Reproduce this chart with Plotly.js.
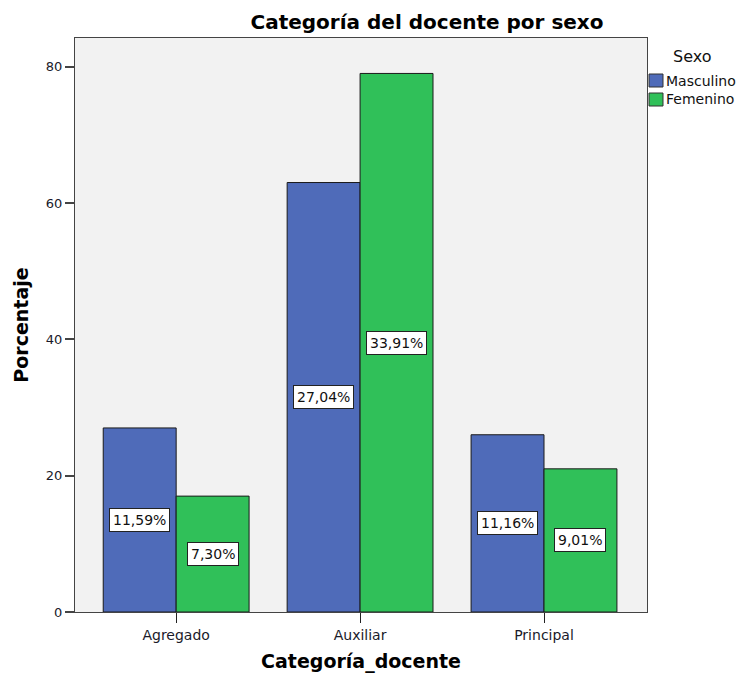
<!DOCTYPE html>
<html>
<head>
<meta charset="utf-8">
<script src="https://cdn.plot.ly/plotly-3.0.1.min.js"></script>
<style>
  html, body { margin: 0; padding: 0; background: #ffffff; }
  #chart { width: 740px; height: 675px; }
</style>
</head>
<body>
<div id="chart"></div>
<script>
// Categorías del docente y número de docentes por sexo
const categorias = ['Agregado', 'Auxiliar', 'Principal'];
const series = ['Masculino', 'Femenino'];
const masculino = [27, 63, 26];
const femenino = [17, 79, 21];
const colores = ['#4f6bb9', '#30c059'];
const yTicks = [0, 20, 40, 60, 80];

const valores = [masculino, femenino];
const total = valores.flat().reduce((a, b) => a + b, 0);
const pct = v => (v / total * 100).toFixed(2).replace('.', ',') + '%';

const FONT = 'DejaVu Sans, Verdana, sans-serif';
const BARGAP = 0.207;
const halfBar = (1 - BARGAP) / 4;

// Márgenes del área de trazado (px)
const M = { l: 75, r: 93, t: 38, b: 63 };
const W = 740, H = 675;
const plotW = W - M.l - M.r, plotH = H - M.t - M.b;
const px = x => (x - M.l) / plotW;          // px horizontal -> coordenada paper
const py = y => (H - M.b - y) / plotH;      // px vertical -> coordenada paper

const traces = valores.map((vals, s) => ({
  type: 'bar',
  name: series[s],
  x: categorias,
  y: vals,
  marker: { color: colores[s], line: { color: '#1a1a1a', width: 1 } },
  hoverinfo: 'x+y+name',
  showlegend: false
}));

// Etiquetas con el porcentaje sobre el total, en el centro de cada barra
const annotations = [];
valores.forEach((vals, s) => {
  vals.forEach((v, i) => {
    annotations.push({
      x: i + (s === 0 ? -halfBar : halfBar),
      y: v / 2,
      xref: 'x', yref: 'y',
      text: pct(v),
      showarrow: false,
      bgcolor: '#ffffff',
      bordercolor: '#222222',
      borderwidth: 1,
      borderpad: 3,
      font: { family: FONT, size: 14, color: '#111111' }
    });
  });
});

// Leyenda "Sexo" a la derecha del área de trazado
const shapes = [];
annotations.push({
  xref: 'paper', yref: 'paper',
  x: px(692), y: py(57), xanchor: 'center', yanchor: 'middle',
  text: 'Sexo', showarrow: false,
  font: { family: FONT, size: 16, color: '#111111' }
});
series.forEach((name, s) => {
  const top = 74 + s * 19;
  shapes.push({
    type: 'rect', xref: 'paper', yref: 'paper',
    x0: px(649), x1: px(663), y0: py(top + 13), y1: py(top),
    fillcolor: colores[s],
    line: { color: '#333333', width: 1 }
  });
  annotations.push({
    xref: 'paper', yref: 'paper',
    x: px(664), y: py(top + 6.5), xanchor: 'left', yanchor: 'middle',
    text: name, showarrow: false,
    font: { family: FONT, size: 14, color: '#111111' }
  });
});

const layout = {
  width: W,
  height: H,
  margin: M,
  paper_bgcolor: '#ffffff',
  plot_bgcolor: '#f2f2f2',
  barmode: 'group',
  bargap: BARGAP,
  bargroupgap: 0,
  showlegend: false,
  font: { family: FONT, size: 13, color: '#111111' },
  title: {
    text: '<b>Categoría del docente por sexo</b>',
    font: { family: FONT, size: 20, color: '#000000' },
    xref: 'paper', x: px(427), xanchor: 'center',
    yref: 'container', y: 1 - 22 / H, yanchor: 'middle'
  },
  xaxis: {
    type: 'category',
    range: [-0.55, 2.56],
    showgrid: false,
    zeroline: false,
    showline: true, mirror: true, linecolor: '#444444', linewidth: 1,
    ticks: 'outside', ticklen: 10, tickcolor: '#222222', tickwidth: 1,
    tickfont: { family: FONT, size: 14, color: '#1a1a2a' },
    title: {
      text: '<b>Categoría_docente</b>',
      font: { family: FONT, size: 19, color: '#000000' },
      standoff: 12
    }
  },
  yaxis: {
    range: [0, 84.2],
    tickvals: yTicks,
    showgrid: false,
    zeroline: false,
    showline: true, mirror: true, linecolor: '#444444', linewidth: 1,
    ticks: 'outside', ticklen: 9, tickcolor: '#444444', tickwidth: 2,
    tickfont: { family: FONT, size: 13, color: '#1a1a2a' },
    title: {
      text: '<b>Porcentaje</b>',
      font: { family: FONT, size: 19, color: '#000000' },
      standoff: 12
    }
  },
  shapes: shapes,
  annotations: annotations
};

Plotly.newPlot('chart', traces, layout, { displayModeBar: false, responsive: false });
</script>
</body>
</html>
